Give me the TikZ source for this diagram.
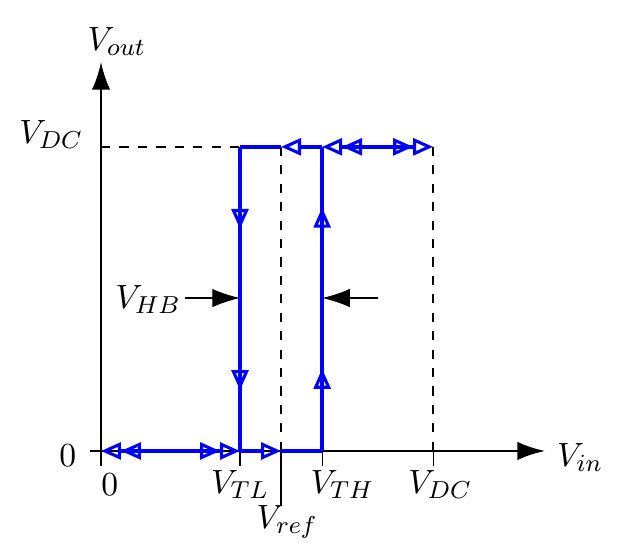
\documentclass[tikz,border=0pt]{standalone}
\usetikzlibrary{arrows.meta,decorations.markings}

\tikzset{
	otip/.tip={Triangle[open,length=6.5pt,width=5.5pt,line width=1pt]},
	loop/.style={blue, line width=1.4pt},
	axis/.style={thick, -{Latex[length=9pt,width=6pt]}},
	guide/.style={thick, dashed},
	tick/.style={thin},
	vmark/.style={postaction={decorate}, decoration={markings,
		mark=at position 0.27 with {\arrow{otip}},
		mark=at position 0.8 with {\arrow{otip}}}}
}

\begin{document}
\begin{tikzpicture}[font=\fontsize{11}{13}\selectfont]
	\useasboundingbox (-1.156,-1.19) rectangle (5.984,5.16);
	% key points
	\coordinate (O) at (0,0);
	\coordinate (tl0) at (1.59,0);
	\coordinate (rf0) at (2.06,0);
	\coordinate (th0) at (2.53,0);
	\coordinate (dc0) at (3.80,0);
	\coordinate (tl1) at (1.59,3.48);
	\coordinate (rf1) at (2.06,3.48);
	\coordinate (th1) at (2.53,3.48);
	\coordinate (dc1) at (3.80,3.48);
	\coordinate (y1) at (0,3.48);
	% axes
	\draw[axis] (-0.13,0) -- (5.08,0);
	\draw[axis] (0,-0.17) -- (0,4.45);
	\draw[tick] (tl0) -- +(0,-0.17);
	\draw[tick] (th0) -- +(0,-0.17);
	\draw[tick] (dc0) -- +(0,-0.17);
	\draw[tick] (rf0) -- +(0,-0.62);
	% guides
	\draw[guide] (y1) -- (tl1);
	\draw[guide] (rf1) -- (rf0);
	\draw[guide] (dc1) -- (dc0);
	% hysteresis loop
	\draw[loop,{otip[]otip[]}-{otip[]otip[]}] (O) -- (tl0);
	\draw[loop,-otip] (tl0) -- (rf0);
	\draw[loop] (rf0) -- (th0);
	\draw[loop,vmark] (tl1) -- (tl0);
	\draw[loop,vmark] (th0) -- (th1);
	\draw[loop] (tl1) -- (rf1);
	\draw[loop,-otip] (th1) -- (rf1);
	\draw[loop,{otip[]otip[]}-{otip[]otip[]}] (th1) -- (dc1);
	% hysteresis band
	\coordinate (hbl) at (0.96,1.75);
	\coordinate (hbr) at (3.17,1.75);
	\draw[-{Latex[length=9pt,width=6pt]}] (hbl) -- (1.59,1.75);
	\draw[-{Latex[length=9pt,width=6pt]}] (hbr) -- (2.53,1.75);
	% labels
	\node (vout) at (0.18,4.68) {$V_{out}$};
	\node (vin) at (5.48,-0.07) {$V_{in}$};
	\node (vdcy) at (-0.57,3.62) {$V_{DC}$};
	\node (zy) at (-0.38,-0.05) {$0$};
	\node (vhb) at (0.54,1.73) {$V_{HB}$};
	\node (zx) at (0.10,-0.38) {$0$};
	\node (vtl) at (1.59,-0.38) {$V_{TL}$};
	\node (vth) at (2.76,-0.38) {$V_{TH}$};
	\node (vdcx) at (3.88,-0.38) {$V_{DC}$};
	\node (vref) at (2.13,-0.81) {$V_{ref}$};
\end{tikzpicture}
\end{document}
